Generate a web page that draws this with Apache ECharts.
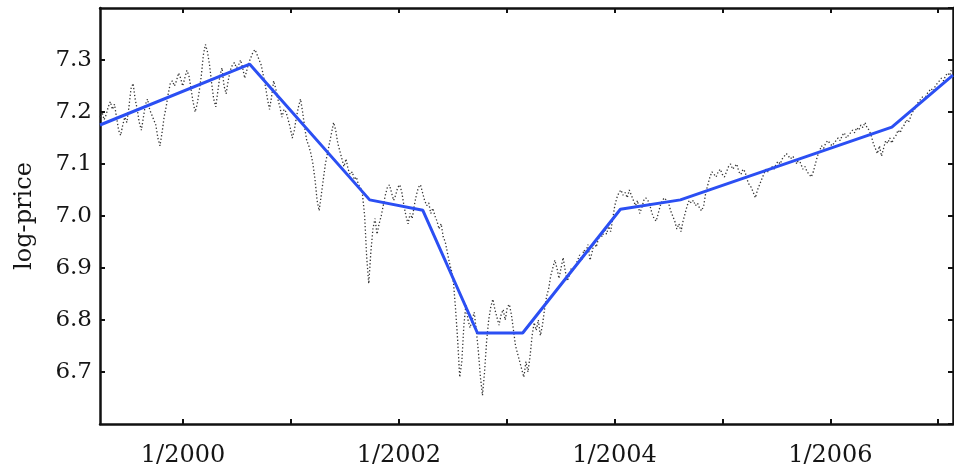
<!DOCTYPE html>
<html>
<head>
<meta charset="utf-8">
<script src="https://cdn.jsdelivr.net/npm/echarts@6/dist/echarts.min.js"></script>
<style>
html,body{margin:0;padding:0;background:#fff;}
#chart{width:954px;height:472px;}
</style>
</head>
<body>
<div id="chart"></div>
<script>
// ---- data ----
var axisStart = '1999-03-26';
var axisEnd = '2007-02-20';
var tickYears = [2000, 2001, 2002, 2003, 2004, 2005, 2006, 2007];
var labelYears = [2000, 2002, 2004, 2006];
var yTickMin = 6.6, yTickMax = 7.4, yTickStep = 0.1;

// weekly log-price samples starting at priceStart
var priceStart = '1999-03-26';
var priceStepDays = 7;
var priceValues = [
 7.19,7.20,7.185,7.195,7.21,7.22,7.205,7.215,7.19,7.165,7.155,7.175,7.19,7.18,7.21,7.245,7.255,7.225,7.205,7.18,
 7.165,7.19,7.215,7.225,7.205,7.195,7.185,7.175,7.15,7.135,7.16,7.19,7.21,7.235,7.255,7.26,7.25,7.26,7.275,7.265,
 7.25,7.265,7.28,7.27,7.245,7.22,7.2,7.215,7.24,7.27,7.31,7.33,7.315,7.29,7.255,7.225,7.21,7.24,7.27,7.285,
 7.25,7.235,7.26,7.28,7.29,7.295,7.285,7.29,7.30,7.285,7.265,7.28,7.295,7.305,7.315,7.32,7.31,7.30,7.29,7.27,
 7.25,7.225,7.205,7.23,7.26,7.245,7.225,7.21,7.19,7.205,7.2,7.185,7.17,7.15,7.165,7.19,7.21,7.225,7.2,7.17,
 7.145,7.135,7.12,7.1,7.07,7.03,7.01,7.04,7.07,7.1,7.12,7.14,7.16,7.18,7.165,7.14,7.125,7.11,7.095,7.11,
 7.09,7.08,7.085,7.07,7.075,7.06,7.055,7.04,7.0,6.92,6.87,6.93,6.975,6.995,6.965,6.985,7.0,7.02,7.04,7.055,
 7.06,7.045,7.03,7.04,7.055,7.06,7.045,7.02,7.0,6.985,7.005,6.995,7.02,7.04,7.055,7.06,7.045,7.03,7.02,7.025,
 7.005,7.015,7.0,6.99,6.975,6.985,6.96,6.95,6.93,6.91,6.895,6.87,6.82,6.76,6.69,6.72,6.79,6.83,6.8,6.785,
 6.8,6.815,6.78,6.74,6.69,6.655,6.7,6.76,6.8,6.825,6.84,6.82,6.805,6.79,6.81,6.82,6.8,6.825,6.83,6.81,
 6.78,6.75,6.735,6.72,6.705,6.69,6.72,6.7,6.73,6.77,6.795,6.78,6.8,6.77,6.79,6.82,6.845,6.86,6.885,6.9,
 6.915,6.9,6.88,6.9,6.92,6.895,6.875,6.885,6.9,6.895,6.905,6.915,6.925,6.915,6.935,6.93,6.945,6.915,6.93,6.95,
 6.94,6.955,6.965,6.96,6.975,6.965,6.98,6.97,6.995,7.02,7.035,7.045,7.05,7.04,7.045,7.035,7.05,7.04,7.03,7.02,
 7.03,7.005,7.015,7.03,7.035,7.03,7.02,7.005,6.995,6.99,7.005,7.02,7.03,7.035,7.03,7.025,7.01,7.0,6.99,6.975,
 6.985,6.97,6.99,7.005,7.02,7.03,7.025,7.03,7.02,7.025,7.015,7.01,7.02,7.045,7.06,7.075,7.085,7.08,7.075,7.085,
 7.09,7.08,7.075,7.085,7.095,7.1,7.09,7.095,7.1,7.085,7.08,7.09,7.085,7.07,7.06,7.055,7.045,7.035,7.05,7.06,
 7.07,7.08,7.09,7.085,7.09,7.095,7.09,7.1,7.105,7.1,7.11,7.115,7.12,7.115,7.11,7.115,7.11,7.1,7.11,7.1,
 7.09,7.095,7.085,7.08,7.075,7.085,7.1,7.115,7.125,7.135,7.13,7.14,7.145,7.14,7.135,7.14,7.145,7.15,7.145,7.155,
 7.16,7.15,7.155,7.16,7.165,7.16,7.17,7.165,7.175,7.17,7.18,7.17,7.165,7.155,7.14,7.13,7.12,7.135,7.115,7.13,
 7.145,7.14,7.15,7.14,7.15,7.155,7.165,7.16,7.17,7.175,7.185,7.18,7.19,7.2,7.205,7.215,7.22,7.225,7.23,7.225,
 7.235,7.24,7.245,7.24,7.25,7.255,7.26,7.265,7.26,7.27,7.275,7.27,7.285
];

// piecewise-linear trend (blue)
var trendDates = ['1999-03-26','2000-08-14','2001-09-24','2002-03-23','2002-09-24','2003-02-24','2004-01-21','2004-08-11','2006-07-28','2007-02-20'];
var trendValues = [7.175, 7.292, 7.031, 7.011, 6.775, 6.775, 7.013, 7.031, 7.171, 7.271];

// ---- helpers ----
function utcTs(s) {
  var p = s.split('-');
  return Date.UTC(+p[0], +p[1] - 1, +p[2]);
}
function jan1(y) { return Date.UTC(y, 0, 1); }

var ps = priceStart.split('-');
var priceData = priceValues.map(function (v, i) {
  return [Date.UTC(+ps[0], +ps[1] - 1, +ps[2] + i * priceStepDays), v];
});
var trendData = trendDates.map(function (d, i) { return [utcTs(d), trendValues[i]]; });

var tickTs = tickYears.map(jan1);
var labelTs = labelYears.map(jan1);

var FONT = 'DejaVu Serif';
var TEXT = '#151515';
var axisLineStyle = { color: '#111', width: 2.5 };

var chart = echarts.init(document.getElementById('chart'), null, { renderer: 'canvas' });
chart.setOption({
  animation: false,
  backgroundColor: '#fff',
  grid: { left: 100, right: 1, top: 8, bottom: 48, containLabel: false },
  xAxis: [
    {
      type: 'value', position: 'bottom', scale: true,
      min: utcTs(axisStart), max: utcTs(axisEnd),
      axisLine: { show: true, onZero: false, lineStyle: axisLineStyle },
      axisTick: { show: true, inside: true, length: 5, lineStyle: { color: '#111', width: 2 }, customValues: tickTs },
      axisLabel: {
        show: true, customValues: labelTs, margin: 20,
        fontFamily: FONT, fontSize: 24, color: TEXT,
        formatter: function (v) { return '1/' + new Date(v).getUTCFullYear(); }
      },
      splitLine: { show: false }
    },
    {
      type: 'value', position: 'top', scale: true,
      min: utcTs(axisStart), max: utcTs(axisEnd),
      axisLine: { show: true, onZero: false, lineStyle: axisLineStyle },
      axisTick: { show: true, inside: true, length: 5, lineStyle: { color: '#111', width: 2 }, customValues: tickTs },
      axisLabel: { show: false },
      splitLine: { show: false }
    }
  ],
  yAxis: [
    {
      type: 'value', position: 'left',
      min: yTickMin, max: yTickMax, interval: yTickStep,
      name: 'log-price', nameLocation: 'middle', nameGap: 63, nameRotate: 90,
      nameTextStyle: { fontFamily: FONT, fontSize: 24, color: TEXT },
      axisLine: { show: true, onZero: false, lineStyle: axisLineStyle },
      axisTick: { show: true, inside: true, length: 5, lineStyle: { color: '#111', width: 2 } },
      axisLabel: {
        show: true, margin: 8, showMinLabel: false, showMaxLabel: false,
        fontFamily: FONT, fontSize: 23, color: TEXT,
        formatter: function (v) { return v.toFixed(1); }
      },
      splitLine: { show: false }
    },
    {
      type: 'value', position: 'right',
      min: yTickMin, max: yTickMax, interval: yTickStep,
      axisLine: { show: true, onZero: false, lineStyle: axisLineStyle },
      axisTick: { show: true, inside: true, length: 5, lineStyle: { color: '#111', width: 2 } },
      axisLabel: { show: false },
      splitLine: { show: false }
    }
  ],
  series: [
    {
      type: 'line', name: 'price', data: priceData,
      xAxisIndex: 0, yAxisIndex: 0,
      showSymbol: false, smooth: false,
      lineStyle: { color: '#333', width: 1.3, type: [1.3, 2.2] },
      z: 2
    },
    {
      type: 'line', name: 'trend', data: trendData,
      xAxisIndex: 0, yAxisIndex: 0,
      showSymbol: false,
      lineStyle: { color: '#2b4ff3', width: 3 },
      z: 3
    }
  ]
});
</script>
</body>
</html>
